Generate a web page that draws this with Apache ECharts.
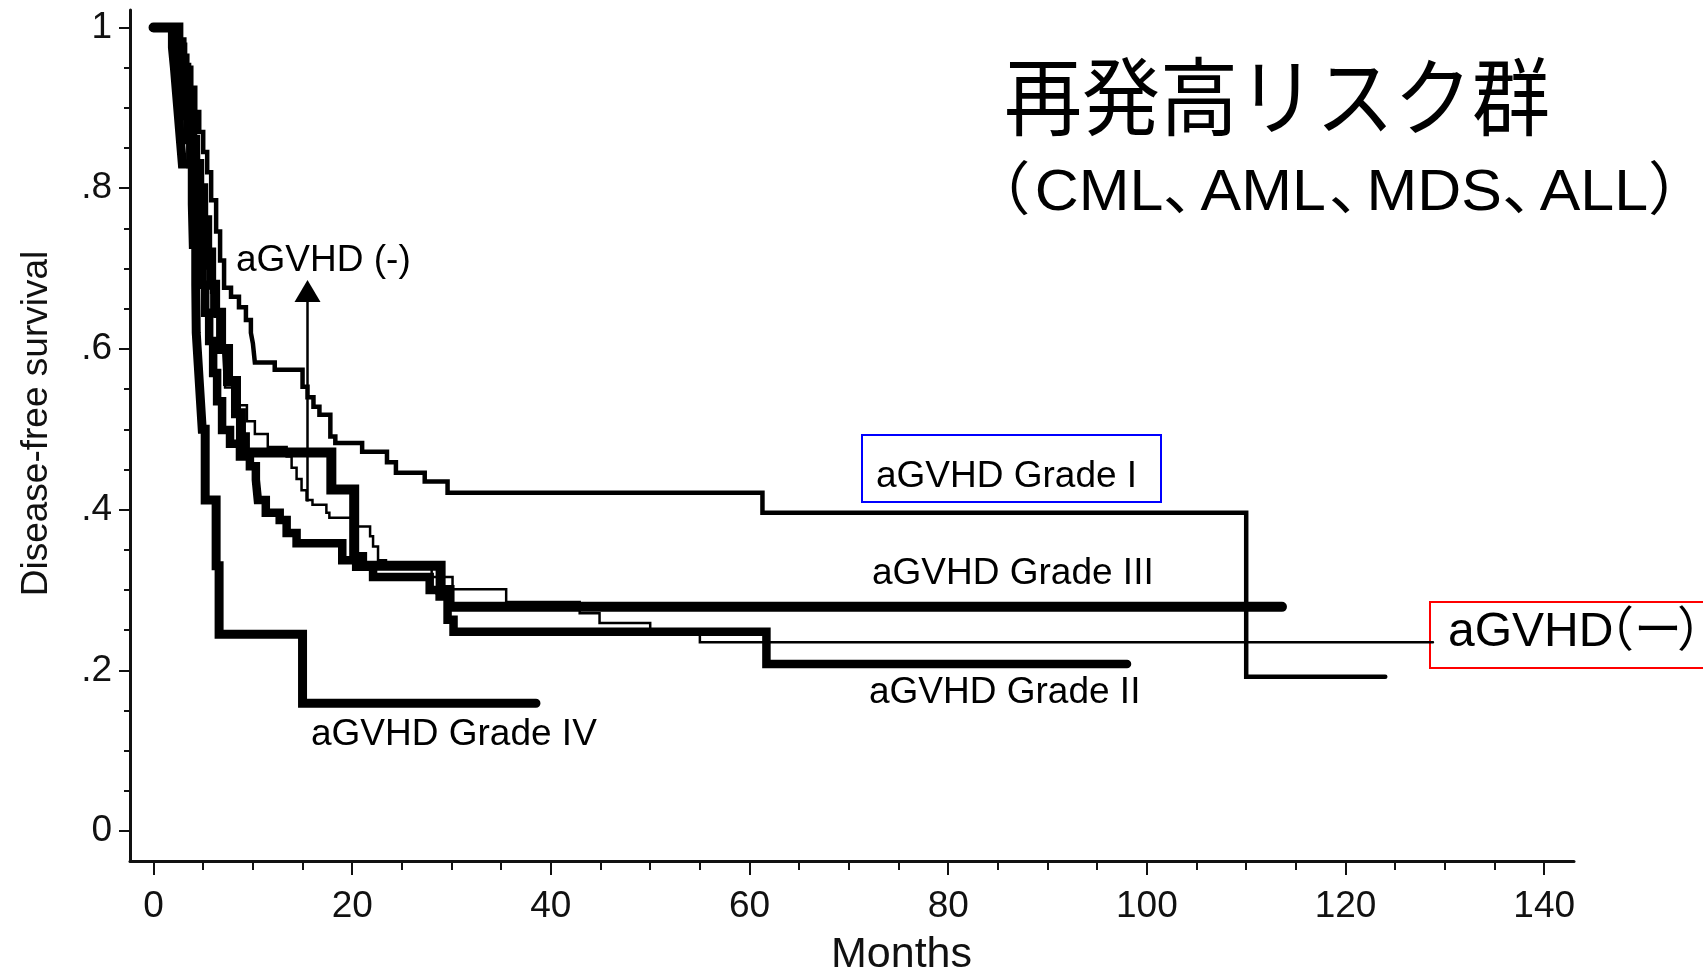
<!DOCTYPE html>
<html lang="ja">
<head>
<meta charset="utf-8">
<title>再発高リスク群 Disease-free survival</title>
<script src="https://cdn.jsdelivr.net/npm/echarts@6.0.0/dist/echarts.min.js"></script>
<style>
  html, body { margin: 0; padding: 0; background: #fff; }
  #chart { width: 1703px; height: 975px; }
</style>
</head>
<body>
<div id="chart"></div>
<script>
// Kaplan-Meier disease-free survival by acute GVHD grade, high relapse-risk group.
// Each curve lists [months, survival] at every step (survival after the drop);
// the last pair marks the end of follow-up.
const gvhdNone = [
  [0, 1], [2.1, 0.985], [2.4, 0.96], [2.7, 0.935], [3.0, 0.91], [3.3, 0.88], [3.6, 0.85],
  [3.9, 0.82], [4.2, 0.79], [4.6, 0.76], [5.0, 0.73], [5.4, 0.70], [5.8, 0.67], [6.2, 0.64],
  [6.6, 0.62], [7.0, 0.60], [7.2, 0.552], [8.4, 0.53], [9.4, 0.51], [10.2, 0.494],
  [11.5, 0.478], [13.4, 0.466], [13.9, 0.452], [14.4, 0.438], [14.9, 0.424], [15.4, 0.412],
  [16.0, 0.406], [17.4, 0.396], [17.7, 0.390], [20.1, 0.379], [21.8, 0.367], [22.1, 0.354],
  [22.6, 0.337], [23.4, 0.328], [28.0, 0.316], [30.1, 0.301], [35.5, 0.285], [42.9, 0.271],
  [44.9, 0.259], [50.0, 0.248], [55.0, 0.235], [128.8, 0.235]
];
const gradeI = [
  [0, 1], [2.7, 0.985], [3.1, 0.965], [3.4, 0.95], [3.8, 0.925], [4.2, 0.895], [4.6, 0.87],
  [5.0, 0.845], [5.4, 0.82], [5.8, 0.785], [6.3, 0.746], [6.7, 0.71], [7.1, 0.676],
  [7.8, 0.665], [8.6, 0.652], [9.3, 0.636], [9.8, 0.62], [10.0, 0.607], [10.2, 0.583],
  [12.2, 0.574], [15.0, 0.553], [15.5, 0.540], [16.1, 0.528], [16.7, 0.518], [17.8, 0.491],
  [18.3, 0.483], [21.0, 0.472], [23.5, 0.459], [24.4, 0.446], [27.3, 0.435], [29.6, 0.421],
  [61.3, 0.396], [110.0, 0.192], [124.0, 0.192]
];
const gradeII = [
  [0, 1], [2.2, 0.975], [2.5, 0.95], [2.8, 0.92], [3.1, 0.89], [3.4, 0.86], [3.7, 0.83],
  [4.0, 0.80], [4.3, 0.76], [4.6, 0.72], [4.9, 0.68], [5.2, 0.645], [5.6, 0.61], [6.0, 0.57],
  [6.4, 0.535], [6.9, 0.499], [7.7, 0.482], [8.7, 0.466], [9.7, 0.454], [10.3, 0.437],
  [10.5, 0.412], [11.3, 0.396], [12.7, 0.387], [13.4, 0.371], [14.4, 0.358], [19.0, 0.337],
  [20.4, 0.329], [22.1, 0.316], [27.8, 0.300], [28.8, 0.292], [29.6, 0.263], [30.2, 0.248],
  [61.7, 0.208], [98.0, 0.208]
];
const gradeIII = [
  [0, 1], [2.5, 0.975], [2.9, 0.95], [3.3, 0.92], [3.6, 0.89], [3.9, 0.86], [4.2, 0.83],
  [4.6, 0.80], [5.0, 0.76], [5.4, 0.72], [5.8, 0.68], [6.2, 0.645], [6.8, 0.60], [7.5, 0.56],
  [8.3, 0.52], [8.8, 0.49], [9.2, 0.471], [17.9, 0.425], [20.2, 0.341], [21.0, 0.330],
  [28.9, 0.300], [29.8, 0.279], [113.6, 0.279]
];
const gradeIV = [
  [0, 1], [1.9, 0.975], [2.1, 0.95], [2.3, 0.92], [2.5, 0.89], [2.7, 0.86], [2.9, 0.83],
  [3.9, 0.78], [4.0, 0.73], [4.25, 0.68], [4.3, 0.62], [4.5, 0.58], [4.7, 0.54], [4.9, 0.50],
  [5.2, 0.412], [6.3, 0.33], [6.6, 0.245], [15.0, 0.159], [38.5, 0.159]
];

// Axis ticks and labels
const xMajorTicks = [0, 20, 40, 60, 80, 100, 120, 140];
const xMinorTicks = [0, 5, 10, 15, 20, 25, 30, 35, 40, 45, 50, 55, 60, 65, 70, 75, 80, 85, 90,
  95, 100, 105, 110, 115, 120, 125, 130, 135, 140];
const yMajorTicks = [0, 0.2, 0.4, 0.6, 0.8, 1];
const yTickLabels = ['0', '.2', '.4', '.6', '.8', '1'];
const yMinorTicks = [0, 0.05, 0.1, 0.15, 0.2, 0.25, 0.3, 0.35, 0.4, 0.45, 0.5, 0.55, 0.6,
  0.65, 0.7, 0.75, 0.8, 0.85, 0.9, 0.95, 1];

// Pointer from the aGVHD(-) curve up to its caption (months, survival)
const arrowFrom = [15.5, 0.41];
const arrowTo = [15.5, 0.672];

const INK = '#000';
const AXIS_INK = '#111';
const helv = '"Liberation Sans", Arial, Helvetica, sans-serif';
const jp = '"Noto Sans CJK JP", sans-serif';
const mixed = '"Liberation Sans", "Noto Sans CJK JP", sans-serif';

const X_MIN = -2.37, X_MAX = 143.0;
const Y_MIN = -0.0373, Y_MAX = 1.0218;

function kmCurve(name, data, width, extra) {
  return Object.assign({
    name: name,
    type: 'line',
    data: data,
    step: 'end',
    symbol: 'none',
    showSymbol: false,
    silent: true,
    animation: false,
    xAxisIndex: 0,
    yAxisIndex: 0,
    lineStyle: { color: INK, width: width, cap: 'round', join: 'miter' },
    emphasis: { disabled: true }
  }, extra || {});
}

function caption(text, x, y) {
  return {
    type: 'text', x: x, y: y, silent: true,
    style: { text: text, font: '37px ' + helv, fill: INK, textAlign: 'left', textVerticalAlign: 'middle' }
  };
}

const SUB = '58px ' + mixed;
const RED = '48px ' + mixed;

const chart = echarts.init(document.getElementById('chart'), null, { renderer: 'canvas' });

chart.setOption({
  animation: false,
  backgroundColor: '#fff',
  grid: { left: 130, right: 129, top: 10, bottom: 114, containLabel: false, outerBoundsMode: 'none' },
  xAxis: [
    {
      type: 'value', min: X_MIN, max: X_MAX, position: 'bottom',
      axisLine: { show: true, onZero: false, lineStyle: { color: AXIS_INK, width: 3 } },
      axisTick: { show: true, customValues: xMajorTicks, length: 14, lineStyle: { color: AXIS_INK, width: 2 } },
      axisLabel: { show: true, customValues: xMajorTicks, margin: 27, fontSize: 37, fontFamily: helv, color: AXIS_INK },
      splitLine: { show: false },
      name: 'Months', nameLocation: 'middle', nameGap: 73, nameMoveOverlap: false,
      nameTextStyle: { fontSize: 43, fontFamily: helv, color: AXIS_INK, padding: [0, 0, 0, 99] }
    },
    {
      type: 'value', min: X_MIN, max: X_MAX, position: 'bottom', offset: 0,
      axisLine: { show: false, onZero: false },
      axisTick: { show: true, customValues: xMinorTicks, length: 9, lineStyle: { color: AXIS_INK, width: 2 } },
      axisLabel: { show: false },
      splitLine: { show: false }
    }
  ],
  yAxis: [
    {
      type: 'value', min: Y_MIN, max: Y_MAX, position: 'left',
      axisLine: { show: true, onZero: false, lineStyle: { color: AXIS_INK, width: 3 } },
      axisTick: { show: true, customValues: yMajorTicks, length: 11, lineStyle: { color: AXIS_INK, width: 2 } },
      axisLabel: {
        show: true, customValues: yMajorTicks, margin: 18, fontSize: 37, fontFamily: helv, color: AXIS_INK,
        formatter: function (v) {
          let best = 0;
          yMajorTicks.forEach(function (t, i) { if (Math.abs(t - v) < Math.abs(yMajorTicks[best] - v)) best = i; });
          return yTickLabels[best];
        }
      },
      splitLine: { show: false },
      name: 'Disease-free survival', nameLocation: 'middle', nameRotate: 90, nameGap: 75, nameMoveOverlap: false,
      nameTextStyle: { fontSize: 37, fontFamily: helv, color: AXIS_INK, padding: [0, 0, 0, 24] }
    },
    {
      type: 'value', min: Y_MIN, max: Y_MAX, position: 'left', offset: 0,
      axisLine: { show: false, onZero: false },
      axisTick: { show: true, customValues: yMinorTicks, length: 6, lineStyle: { color: AXIS_INK, width: 2 } },
      axisLabel: { show: false },
      splitLine: { show: false }
    }
  ],
  series: [
    kmCurve('aGVHD Grade IV', gradeIV, 9),
    kmCurve('aGVHD Grade III', gradeIII, 10),
    kmCurve('aGVHD Grade II', gradeII, 8.5),
    kmCurve('aGVHD Grade I', gradeI, 4.5),
    kmCurve('aGVHD (-)', gvhdNone, 2.5, {
      markLine: {
        silent: true, animation: false,
        symbol: ['none', 'triangle'],
        symbolSize: 24,
        label: { show: false },
        emphasis: { disabled: true },
        lineStyle: { color: INK, width: 2.5, type: 'solid' },
        data: [[{ coord: arrowFrom }, { coord: arrowTo, symbol: 'triangle', symbolSize: [26, 22] }]]
      }
    })
  ],
  graphic: [
    {
      type: 'text', x: 1004, y: 97, scaleY: 1.09, silent: true,
      style: { text: '再発高リスク群', font: '400 78px ' + jp, fill: INK, textAlign: 'left', textVerticalAlign: 'middle' }
    },
    {
      type: 'text', x: 969.6, y: 194, scaleX: 1.05, silent: true,
      style: {
        text: '{p|（}{a|CML}{c|、}{b|AML}{d|、}{e|MDS}{f|、}{g|ALL}{q|）}',
        fill: INK, textAlign: 'left', textVerticalAlign: 'middle',
        rich: {
          p: { font: SUB, width: 62 },
          a: { font: SUB, width: 122 },
          c: { font: SUB, width: 36 },
          b: { font: SUB, width: 122 },
          d: { font: SUB, width: 36 },
          e: { font: SUB, width: 129 },
          f: { font: SUB, width: 36 },
          g: { font: SUB, width: 103 },
          q: { font: SUB, width: 18 }
        }
      }
    },
    {
      type: 'text', x: 1448, y: 633, silent: true,
      style: {
        text: '{a|aGVHD}{p|（}{m|ー}{q|）}',
        fill: INK, textAlign: 'left', textVerticalAlign: 'middle',
        rich: {
          a: { font: RED, width: 138 },
          p: { font: RED, width: 48 },
          m: { font: RED, width: 43 },
          q: { font: RED, width: 20 }
        }
      }
    },
    caption('aGVHD (-)', 236, 261),
    caption('aGVHD Grade I', 876, 476.5),
    caption('aGVHD Grade III', 872, 574),
    caption('aGVHD Grade II', 869, 692.5),
    caption('aGVHD Grade IV', 311, 734.5),
    {
      type: 'rect', silent: true,
      shape: { x: 862, y: 435, width: 299, height: 67 },
      style: { fill: 'none', stroke: '#0000ff', lineWidth: 2 }
    },
    {
      type: 'rect', silent: true,
      shape: { x: 1430, y: 602, width: 290, height: 66 },
      style: { fill: 'none', stroke: '#ff0000', lineWidth: 2 }
    }
  ]
});
</script>
</body>
</html>
